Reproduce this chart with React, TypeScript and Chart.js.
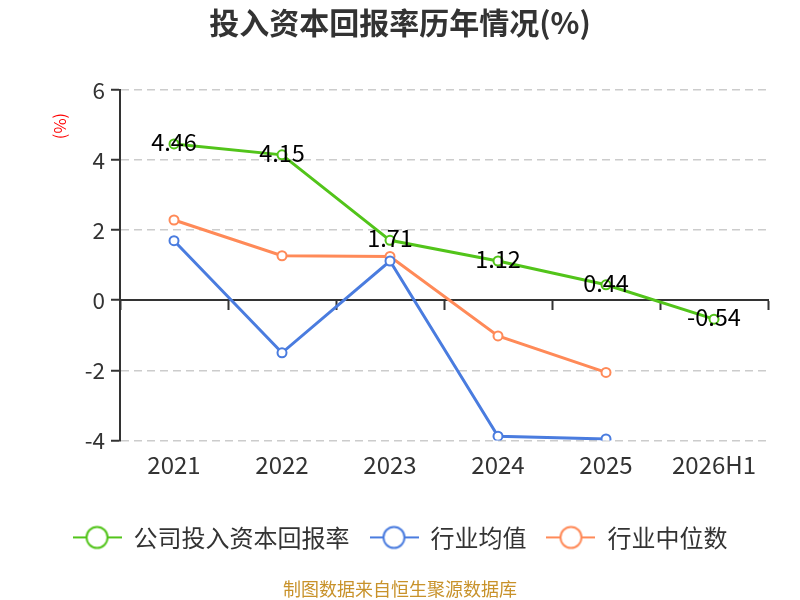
import { useEffect, useRef } from "react";
import Chart from "chart.js/auto";

const years = ["2021", "2022", "2023", "2024", "2025", "2026H1"];
const companyRoic = [4.46, 4.15, 1.71, 1.12, 0.44, -0.54];
const industryAvg = [1.7, -1.5, 1.12, -3.88, -3.96, null];
const industryMedian = [2.29, 1.27, 1.25, -1.02, -2.06, null];
const yTicks = { min: -4, max: 6, step: 2 };

const GREEN = "#52c41a";
const BLUE = "#4a7cdf";
const ORANGE = "#ff8a58";
const FONT = '"Noto Sans CJK SC", "Noto Sans", sans-serif';

function legendIcon(color: string) {
  const c = document.createElement("canvas");
  c.width = 49;
  c.height = 26;
  const g = c.getContext("2d") as CanvasRenderingContext2D;
  g.strokeStyle = color;
  g.lineWidth = 2;
  g.beginPath();
  g.moveTo(0, 13);
  g.lineTo(49, 13);
  g.stroke();
  g.beginPath();
  g.arc(24.5, 13, 10.5, 0, Math.PI * 2);
  g.fillStyle = "#fff";
  g.fill();
  g.stroke();
  return c;
}

// value labels on the company line + rotated unit label
const extras = {
  id: "extras",
  afterDatasetsDraw(chart: any) {
    const ctx = chart.ctx;
    const meta = chart.getDatasetMeta(0);
    ctx.save();
    ctx.font = `23.5px ${FONT}`;
    ctx.fillStyle = "#000";
    ctx.textAlign = "center";
    ctx.textBaseline = "middle";
    meta.data.forEach((pt: any, i: number) => {
      const v = companyRoic[i];
      if (v == null) return;
      ctx.fillText(v.toFixed(2), pt.x, pt.y - 2);
    });
    ctx.restore();

    ctx.save();
    ctx.translate(59.5, 126);
    ctx.rotate(-Math.PI / 2);
    ctx.font = `16.5px ${FONT}`;
    ctx.fillStyle = "#ff0000";
    ctx.textAlign = "center";
    ctx.textBaseline = "middle";
    ctx.fillText("(%)", 0, 0);
    ctx.restore();
  },
};

export default function App() {
  const canvasEl: any = useRef(null);

  useEffect(() => {
    const ctx = canvasEl.current.getContext("2d") as any;
    Chart.defaults.font.family = FONT;
    const icons = [legendIcon(GREEN), legendIcon(BLUE), legendIcon(ORANGE)];

    const lineStyle = (color: string) => ({
      borderColor: color,
      backgroundColor: color,
      borderWidth: 3,
      pointRadius: 4.5,
      pointHoverRadius: 4.5,
      pointBackgroundColor: "#fff",
      pointBorderColor: color,
      pointBorderWidth: 2,
      tension: 0,
      spanGaps: false,
    });

    const config = {
      type: "line",
      data: {
        labels: years,
        datasets: [
          { label: "公司投入资本回报率", data: companyRoic, ...lineStyle(GREEN) },
          { label: "行业均值", data: industryAvg, ...lineStyle(BLUE) },
          { label: "行业中位数", data: industryMedian, ...lineStyle(ORANGE) },
        ],
      },
      options: {
        animation: false,
        responsive: true,
        maintainAspectRatio: false,
        layout: { padding: 0 },
        scales: {
          x: {
            type: "category",
            offset: true,
            grid: { display: false, drawTicks: false },
            border: { display: false },
            ticks: { color: "#333", font: { size: 24 }, padding: 10, maxRotation: 0 },
            afterFit: (s: any) => {
              s.height = 65;
              s.paddingRight = 32;
            },
          },
          x2: {
            type: "category",
            position: { y: 0 },
            offset: true,
            grid: {
              offset: true,
              drawOnChartArea: false,
              drawTicks: true,
              tickLength: 9,
              tickColor: "#333",
              tickWidth: 2,
            },
            border: { display: true, color: "#333", width: 2 },
            ticks: { display: false },
            afterFit: (s: any) => {
              s.height = 0;
            },
          },
          y: {
            min: yTicks.min,
            max: yTicks.max,
            ticks: { stepSize: yTicks.step, color: "#333", font: { size: 22.5 }, padding: 6 },
            grid: {
              color: (c: any) => (c.tick && c.tick.value === 0 ? "rgba(0,0,0,0)" : "#cccccc"),
              lineWidth: 1.5,
              tickLength: 9,
              tickColor: "#333",
              tickWidth: 2,
            },
            border: { display: true, color: "#333", width: 2, dash: [8, 5] },
            afterFit: (s: any) => {
              s.width = 120;
            },
          },
        },
        plugins: {
          title: {
            display: true,
            text: "投入资本回报率历年情况(%)",
            color: "#333",
            font: { size: 30, weight: "bold" },
            padding: { top: 5, bottom: 49 },
          },
          subtitle: {
            display: true,
            position: "bottom",
            text: "制图数据来自恒生聚源数据库",
            color: "#c8922a",
            font: { size: 18 },
            padding: { top: 19, bottom: 0 },
          },
          legend: {
            position: "bottom",
            labels: {
              color: "#333",
              font: { size: 24 },
              padding: 20,
              usePointStyle: true,
              pointStyleWidth: 49,
              generateLabels: (chart: any) =>
                Chart.defaults.plugins.legend.labels
                  .generateLabels(chart)
                  .map((l: any, i: number) => ({ ...l, pointStyle: icons[i] })),
            },
          },
          tooltip: { enabled: false },
        },
      },
      plugins: [extras],
    };

    const myChart = new Chart(ctx, config as any);
    return () => {
      myChart.destroy();
    };
  }, []);

  return (
    <div style={{ position: "absolute", left: 0, top: 0, width: 800, height: 600, background: "#fff" }}>
      <canvas ref={canvasEl} />
    </div>
  );
}
